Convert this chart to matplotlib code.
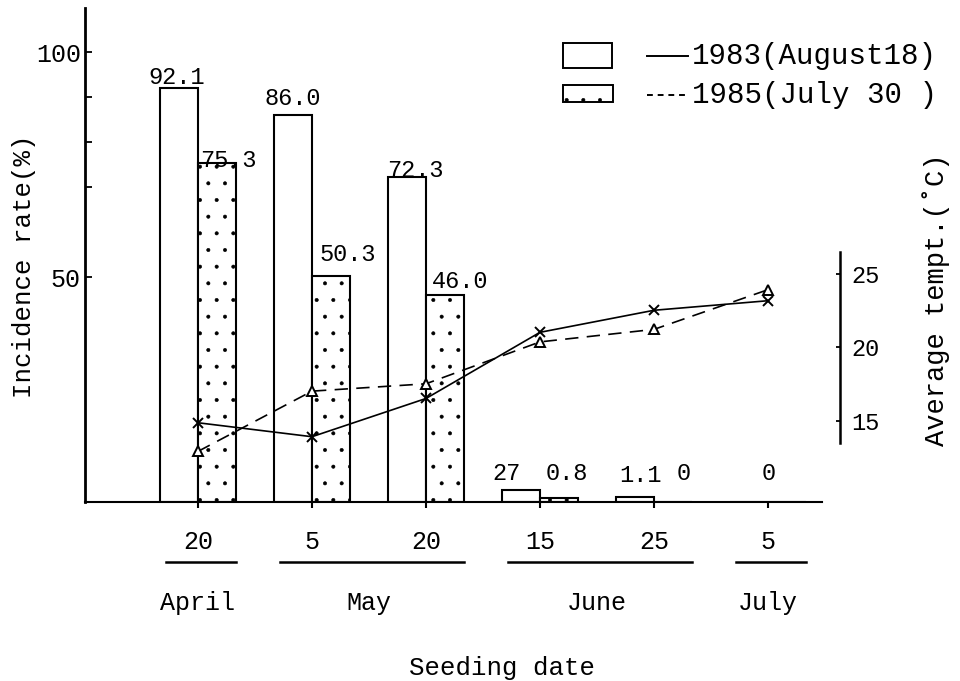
"""Incidence rate by seeding date with average temperature (1983 vs 1985)."""
import matplotlib
matplotlib.use("Agg")
import matplotlib.pyplot as plt
from matplotlib.patches import Rectangle
from matplotlib.lines import Line2D

# ---- data -------------------------------------------------------------
days = ["20", "5", "20", "15", "25", "5"]
months = ["April", "May", "June", "July"]
month_groups = [[0], [1, 2], [3, 4], [5]]

rate_1983 = [92.1, 86.0, 72.3, 2.7, 1.1, 0.0]
rate_1985 = [75.3, 50.3, 46.0, 0.8, 0.0, 0.0]
text_1983 = ["92.1", "86.0", "72.3", "27", "1.1", "0"]
text_1985 = ["75.3", "50.3", "46.0", "0.8", "0", ""]

temp_1983 = [14.85, 13.9, 16.5, 21.0, 22.5, 23.15]
temp_1985 = [12.9, 17.0, 17.5, 20.35, 21.2, 23.9]

# ---- layout (pixels of a 960x681 canvas) -----------------------------
W, H = 960, 681
PX = 72 / 100  # pixel -> point
BAR_W = 0.33
# label offsets (dx, dy above bar top) in px
off_1983 = [(-3, 4), (0, 10), (8, 0), (-15, 10), (5, 15), (20, 22)]
off_1985 = [(12, -4), (17, 15), (15, 7), (8, 18), (11, 22), (0, 0)]

plt.rcParams["font.family"] = ["Liberation Mono", "DejaVu Sans"]
plt.rcParams["hatch.linewidth"] = 0.4

fig = plt.figure(figsize=(W / 100, H / 100), dpi=100)
ax = fig.add_axes([85 / W, 179 / H, 755 / W, 494 / H])
x = list(range(len(days)))

ax.bar([i - BAR_W / 2 for i in x], rate_1983, BAR_W, facecolor="white",
       edgecolor="black", linewidth=1.5)
ax.bar([i + BAR_W / 2 for i in x], rate_1985, BAR_W, facecolor="white",
       edgecolor="black", linewidth=1.5, hatch=".")

for i in x:
    for vals, txt, off, sgn in ((rate_1983, text_1983, off_1983, -1),
                                (rate_1985, text_1985, off_1985, 1)):
        if not txt[i]:
            continue
        ax.annotate(txt[i], xy=(i + sgn * BAR_W / 2, vals[i]),
                    xytext=(off[i][0] * PX, off[i][1] * PX),
                    textcoords="offset points", ha="center", va="baseline",
                    fontsize=17)

ax.set_xlim(-0.991, 5.632)
ax.set_ylim(0, 109.8)
ax.set_xticks(x)
ax.set_xticklabels(days, fontsize=18)
ax.set_yticks([50, 100])
ax.set_yticklabels(["50", "100"], fontsize=18)
ax.set_yticks([70, 80, 90], minor=True)
ax.tick_params(axis="y", which="both", direction="in", length=5, width=1.3, pad=3)
ax.tick_params(axis="x", direction="out", length=4, width=1.5, pad=16)
for s in ("top", "right"):
    ax.spines[s].set_visible(False)
ax.spines["left"].set_linewidth(2.0)
ax.spines["bottom"].set_linewidth(1.5)
ax.spines["bottom"].set_bounds(-0.991, 5.47)

# temperature axis
ax2 = ax.twinx()
ax2.set_ylim(9.46, 43.06)
ax2.plot(x, temp_1983, color="black", linewidth=1.2, marker="x",
         markersize=7, markeredgewidth=1.4)
ax2.plot(x, temp_1985, color="black", linewidth=1.2, dashes=(8, 5),
         marker="^", markersize=7, markerfacecolor="white",
         markeredgewidth=1.4)
ax2.set_yticks([15, 20, 25])
ax2.tick_params(axis="y", direction="in", length=3, width=1.3, pad=8,
                labelsize=17)
for s in ("top", "left", "bottom"):
    ax2.spines[s].set_visible(False)
ax2.spines["right"].set_linewidth(1.8)
ax2.spines["right"].set_bounds(13.47, 26.46)

# month bands under the day ticks
trans = ax.get_xaxis_transform()
for name, grp in zip(months, month_groups):
    lo, hi = grp[0] - 0.28, grp[-1] + 0.33
    ax.add_line(Line2D([lo, hi], [-0.122, -0.122], transform=trans,
                       color="black", linewidth=1.8, clip_on=False))
    ax.text((grp[0] + grp[-1]) / 2, -0.205, name, transform=trans,
            ha="center", va="center", fontsize=18)

fig.text(502 / W, 1 - 668 / H, "Seeding date", ha="center", va="center",
         fontsize=18.5)
fig.text(24 / W, 1 - 266 / H, "Incidence rate(%)", rotation=90,
         ha="center", va="center", fontsize=18.5)
fig.text(936 / W, 1 - 300 / H, "Average tempt.(˚C)", rotation=90,
         ha="center", va="center", fontsize=19.5)

# hand-drawn style key
fig.patches.append(Rectangle((563 / W, 1 - 68 / H), 49 / W, 25 / H,
                             transform=fig.transFigure, facecolor="white",
                             edgecolor="black", linewidth=1.4))
fig.patches.append(Rectangle((563 / W, 1 - 102 / H), 50 / W, 17 / H,
                             transform=fig.transFigure, facecolor="white",
                             edgecolor="black", linewidth=1.4, hatch="."))
fig.lines.append(Line2D([647 / W, 688 / W], [1 - 56 / H, 1 - 56 / H],
                        transform=fig.transFigure, color="black", linewidth=1.4))
fig.lines.append(Line2D([647 / W, 688 / W], [1 - 95 / H, 1 - 95 / H],
                        transform=fig.transFigure, color="black", linewidth=1.4,
                        dashes=(3, 2.5)))
fig.text(692 / W, 1 - 56 / H, "1983(August18)", ha="left", va="center",
         fontsize=21)
fig.text(692 / W, 1 - 95 / H, "1985(July 30 )", ha="left", va="center",
         fontsize=21)

fig.savefig("out.png", dpi=100)
